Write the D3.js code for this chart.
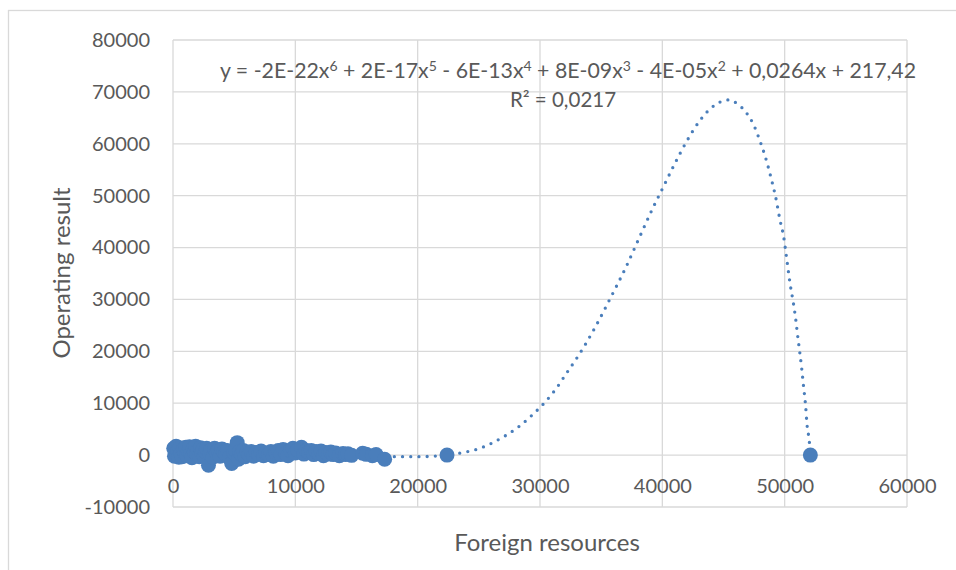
<!DOCTYPE html>
<html>
<head>
<meta charset="utf-8">
<script src="https://cdn.jsdelivr.net/npm/d3@7"></script>
<style>
  body { margin: 0; background: #fff; }
  text { font-family: Lato, "Open Sans", sans-serif; fill: #595959; }
</style>
</head>
<body>
<svg id="chart" width="956" height="570"></svg>
<script>
// tick values of both axes
const xTicks = [0, 10000, 20000, 30000, 40000, 50000, 60000];
const yTicks = [-10000, 0, 10000, 20000, 30000, 40000, 50000, 60000, 70000, 80000];

// observed points: foreign resources (x) vs operating result (y)
const foreignResources = [
  60, 120, 180, 250, 320, 400, 480, 560, 650, 750, 850, 950, 1050, 1150, 1250, 1350, 1450, 1550,
  1650, 1750, 1850, 1950, 2050, 2150, 2250, 2350, 2450, 2550, 2650, 2750, 2900, 3000, 3100, 3250,
  3400, 3550, 3700, 3850, 4000, 4150, 4300, 4450, 4600, 4800, 4950, 5100, 5250, 5350, 5450, 5600,
  5750, 5900, 6050, 6200, 6400, 6600, 6800, 7000, 7200, 7400, 7600, 7800, 8000, 8200, 8400, 8600,
  8800, 9000, 9200, 9400, 9600, 9800, 10000, 10200, 10500, 10700, 10900, 11100, 11300, 11500, 11700,
  11900, 12100, 12300, 12500, 12700, 12900, 13100, 13300, 13600, 13900, 14100, 14300, 14600, 15500,
  15800, 16300, 16600, 17300, 22400, 52100
];
const operatingResult = [
  1300, -200, 600, 1700, 200, 900, -400, 1400, 300, -300, 1100, 500, 1500, -100, 800, 1600, 200, -500,
  1200, 600, 1700, 100, 900, -300, 1400, 500, 1100, -200, 700, 1300, -1950, 300, 1000, -400,
  1300, 400, 900, -200, 1200, 600, 200, 900, -500, -1600, 500, 1000, 2400, -800, 700, 200,
  900, -300, 600, 100, 700, -200, 500, 200, 800, -100, 400, 100, 700, -200, 500, 900,
  100, 1100, 300, -100, 900, 1300, 400, 1000, 1500, 200, 900, 600, 900, 100, 700,
  300, 800, -100, 500, 200, 600, 100, 400, -100, 300, 100, 250, -50, 350,
  150, -100, 100, -800, 0, 0
];

// polynomial trendline (order 6)
const trendX = [
  0, 3000, 6000, 9000, 12000, 15000, 17500, 20000, 22400, 23590, 24890, 26170, 27340, 28430, 29440,
  30390, 31270, 32200, 33150, 34530, 35780, 36990, 38100, 39220, 40110, 41010, 41970, 43050, 43950,
  44600, 45450, 45780, 46300, 46810, 47490, 47980, 48420, 48940, 49260, 49620, 49920, 50110, 50470,
  50710, 50900, 51060, 51230, 51390, 51530, 51720, 51820, 52020, 52100
];
const trendY = [
  217, 400, 300, 100, 0, -200, -300, -300, 0, 450, 1150, 2440, 3980, 5780, 7900,
  10150, 12660, 15900, 19210, 24720, 30380, 36050, 41810, 47590, 51830, 56130, 60390, 64410, 66820,
  67900, 68450, 68210, 67400, 66150, 63520, 60550, 57470, 52930, 49770, 45280, 42060, 38860, 32620,
  29340, 26260, 23040, 19900, 16760, 13550, 9270, 6070, 2500, 0
];

const equationParts = [
  ["y = -2E-22x", false], ["6", true], [" + 2E-17x", false], ["5", true], [" - 6E-13x", false], ["4", true],
  [" + 8E-09x", false], ["3", true], [" - 4E-05x", false], ["2", true], [" + 0,0264x + 217,42", false]
];
const rSquared = "R² = 0,0217";

const svg = d3.select('#chart');
const blue = '#4a7ebb';
const grid = '#d9d9d9';

// outer chart border (runs off the picture at right and bottom)
svg.append('rect')
  .attr('x', 8.5).attr('y', 10.5)
  .attr('width', 1000).attr('height', 700)
  .attr('fill', 'none').attr('stroke', grid).attr('stroke-width', 1.3);

const x = d3.scaleLinear().domain([0, 60000]).range([173, 907]);
const y = d3.scaleLinear().domain([-10000, 80000]).range([507, 40]);

// gridlines
svg.append('g').selectAll('line').data(xTicks).join('line')
  .attr('x1', d => x(d)).attr('x2', d => x(d))
  .attr('y1', y(-10000)).attr('y2', y(80000))
  .attr('stroke', grid).attr('stroke-width', 1.3);
svg.append('g').selectAll('line').data(yTicks).join('line')
  .attr('x1', x(0)).attr('x2', x(60000))
  .attr('y1', d => y(d)).attr('y2', d => y(d))
  .attr('stroke', grid).attr('stroke-width', 1.3);

// y axis labels
const yAxis = svg.append('g')
  .attr('transform', `translate(${x(0)},0)`)
  .call(d3.axisLeft(y).tickValues(yTicks).tickSize(0).tickPadding(23).tickFormat(d => String(d)));
yAxis.select('.domain').remove();
yAxis.selectAll('text').attr('font-size', 20).attr('fill', '#595959')
  .style('font-family', 'Lato, "Open Sans", sans-serif');

// x axis labels sit under the zero line
const xAxis = svg.append('g')
  .attr('transform', `translate(0,${y(0)})`)
  .call(d3.axisBottom(x).tickValues(xTicks).tickSize(0).tickPadding(24).tickFormat(d => String(d)));
xAxis.select('.domain').remove();
xAxis.selectAll('text').attr('font-size', 20).attr('fill', '#595959')
  .style('font-family', 'Lato, "Open Sans", sans-serif');

// trendline, round dotted
const line = d3.line()
  .x((d, i) => x(trendX[i]))
  .y((d, i) => y(trendY[i]))
  .curve(d3.curveMonotoneX);
svg.append('path')
  .datum(trendX)
  .attr('d', line)
  .attr('fill', 'none')
  .attr('stroke', blue)
  .attr('stroke-width', 3.3)
  .attr('stroke-linecap', 'round')
  .attr('stroke-dasharray', '0 8.2');

// scatter points
svg.append('g').selectAll('circle')
  .data(foreignResources)
  .join('circle')
  .attr('cx', d => x(d))
  .attr('cy', (d, i) => y(operatingResult[i]))
  .attr('r', 7.5)
  .attr('fill', blue);

// trendline equation and R²
const eq = svg.append('text')
  .attr('x', 568).attr('y', 78)
  .attr('text-anchor', 'middle')
  .attr('font-size', 21.3);
equationParts.forEach(([t, sup], i) => {
  const prevSup = i > 0 && equationParts[i - 1][1];
  eq.append('tspan')
    .attr('dy', sup ? -7 : (prevSup ? 7 : 0))
    .attr('font-size', sup ? 14 : 21.3)
    .text(t);
});
svg.append('text')
  .attr('x', 563).attr('y', 107)
  .attr('text-anchor', 'middle')
  .attr('font-size', 20.5)
  .text(rSquared);

// axis titles
svg.append('text')
  .attr('x', 547).attr('y', 551)
  .attr('text-anchor', 'middle')
  .attr('font-size', 24)
  .text('Foreign resources');
svg.append('text')
  .attr('transform', 'translate(70,273) rotate(-90)')
  .attr('text-anchor', 'middle')
  .attr('font-size', 24)
  .text('Operating result');
</script>
</body>
</html>
